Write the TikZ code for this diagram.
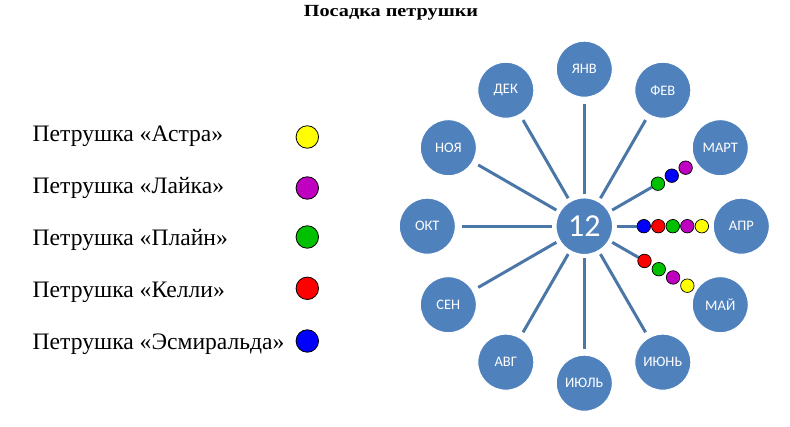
\documentclass[tikz,border=0pt]{standalone}
\usepackage{fontspec}
\setmainfont{Liberation Serif}
\newfontfamily\monthfont{Carlito}
\usetikzlibrary{backgrounds}
\begin{document}
\begin{tikzpicture}[x=1pt,y=1pt,
  month/.style={circle,fill=monthblue,draw=white,line width=1pt,minimum size=56pt,inner sep=0pt,
    text=white,font=\monthfont\fontsize{14.5}{15}\selectfont},
  hub/.style={circle,fill=monthblue,draw=white,line width=1.5pt,minimum size=57pt,inner sep=0pt,
    text=white,font=\monthfont\fontsize{32}{32}\selectfont},
  spoke/.style={draw=spokeblue,line width=3pt,shorten <=3pt,shorten >=6pt},
  dspoke/.style={draw=spokeblue,line width=3pt,shorten <=3pt},
  bead/.style={circle,draw=black,line width=0.7pt,minimum size=13.5pt,inner sep=0pt},
  lbead/.style={circle,draw=black,line width=0.8pt,minimum size=22.5pt,inner sep=0pt},
  legtext/.style={anchor=base west,inner sep=0pt,font=\fontsize{23.6}{26}\selectfont},
]
\definecolor{monthblue}{HTML}{4F81BD}
\definecolor{spokeblue}{HTML}{4A76A8}
\definecolor{cyellow}{HTML}{FFFF00}
\definecolor{cmagenta}{HTML}{C000C0}
\definecolor{cgreen}{HTML}{00C000}
\definecolor{cred}{HTML}{FF0000}
\definecolor{cblue}{HTML}{0000FF}
\useasboundingbox (0,0) rectangle (790,426);

% title
\node[font=\bfseries\fontsize{17}{19}\selectfont,inner sep=0pt] (title) at (391,413.5) {\scalebox{1.19}[1]{Посадка петрушки}};

% legend
\node[legtext] (l1) at (32.5,284.3) {Петрушка «Астра»};
\node[legtext] (l2) at (32.5,232.3) {Петрушка «Лайка»};
\node[legtext] (l3) at (32.5,180.3) {Петрушка «Плайн»};
\node[legtext] (l4) at (32.5,128.3) {Петрушка «Келли»};
\node[legtext] (l5) at (32.5,76.3) {Петрушка «Эсмиральда»};
\node[lbead,fill=cyellow] (d1) at (307.3,289) {};
\node[lbead,fill=cmagenta] (d2) at (307.3,238) {};
\node[lbead,fill=cgreen] (d3) at (307.3,189) {};
\node[lbead,fill=cred] (d4) at (307.3,137.7) {};
\node[lbead,fill=cblue] (d5) at (307.3,85) {};

\begin{scope}[shift={(584.3,199.8)}]
\node[hub] (c) at (0,0) {12};
\node[month] (m1) at (90:157) {ЯНВ};
\node[month] (m2) at (60:157) {ФЕВ};
\node[month] (m3) at (30:157) {МАРТ};
\node[month] (m4) at (0:157) {АПР};
\node[month] (m5) at (-30:157) {МАЙ};
\node[month] (m6) at (-60:157) {ИЮНЬ};
\node[month] (m7) at (-90:157) {ИЮЛЬ};
\node[month] (m8) at (-120:157) {АВГ};
\node[month] (m9) at (-150:157) {СЕН};
\node[month] (m10) at (180:157) {ОКТ};
\node[month] (m11) at (150:157) {НОЯ};
\node[month] (m12) at (120:157) {ДЕК};

% beads
\node[bead,fill=cgreen] (b31) at (30:85) {};
\node[bead,fill=cblue] (b32) at (30:101) {};
\node[bead,fill=cmagenta] (b33) at (30:117) {};
\node[bead,fill=cblue] (b41) at (0:59.5) {};
\node[bead,fill=cred] (b42) at (0:74) {};
\node[bead,fill=cgreen] (b43) at (0:88.5) {};
\node[bead,fill=cmagenta] (b44) at (0:103) {};
\node[bead,fill=cyellow] (b45) at (0:117.5) {};
\node[bead,fill=cred] (b51) at (-30:69.5) {};
\node[bead,fill=cgreen] (b52) at (-30:86) {};
\node[bead,fill=cmagenta] (b53) at (-30:102.5) {};
\node[bead,fill=cyellow] (b54) at (-30:119) {};
\end{scope}

\begin{pgfonlayer}{background}
\draw[spoke] (c) -- (m1);
\draw[spoke] (c) -- (m2);
\draw[dspoke] (c) -- (b31);
\draw[dspoke] (c) -- (b41);
\draw[dspoke] (c) -- (b51);
\draw[spoke] (c) -- (m6);
\draw[spoke] (c) -- (m7);
\draw[spoke] (c) -- (m8);
\draw[spoke] (c) -- (m9);
\draw[spoke] (c) -- (m10);
\draw[spoke] (c) -- (m11);
\draw[spoke] (c) -- (m12);
\end{pgfonlayer}
\end{tikzpicture}
\end{document}
